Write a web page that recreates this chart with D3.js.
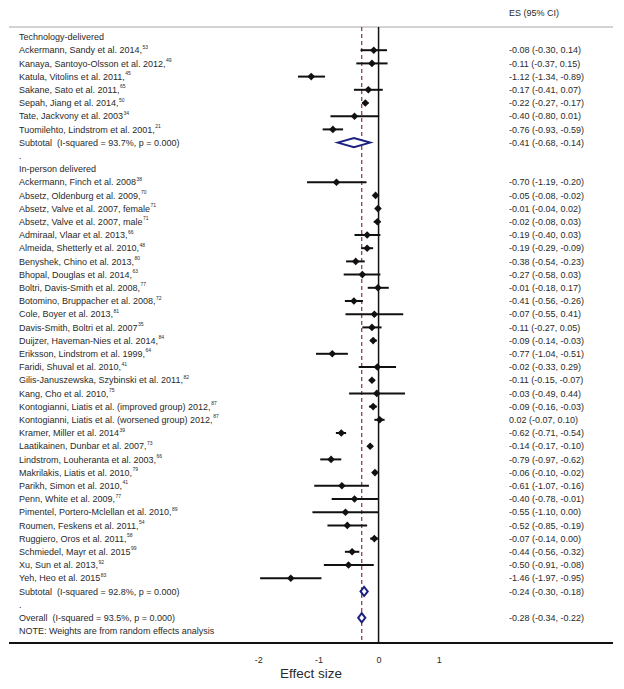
<!DOCTYPE html>
<html><head><meta charset="utf-8">
<script src="https://cdn.jsdelivr.net/npm/d3@7"></script>
<style>body{margin:0;background:#fff}text{font-family:Arial,"Liberation Sans",sans-serif;fill:#2a2a2a;white-space:pre}</style>
</head><body><svg id="c" width="624" height="689"></svg>
<script>
const techLabels=["Ackermann, Sandy et al. 2014,","Kanaya, Santoyo-Olsson et al. 2012,","Katula, Vitolins et al. 2011,","Sakane, Sato et al. 2011,","Sepah, Jiang et al. 2014,","Tate, Jackvony et al. 2003","Tuomilehto, Lindstrom et al. 2001,"];
const techSup=["53","49","45","65","50","34","21"];
const techES=[-0.08,-0.11,-1.12,-0.17,-0.22,-0.40,-0.76];
const techLo=[-0.30,-0.37,-1.34,-0.41,-0.27,-0.80,-0.93];
const techHi=[0.14,0.15,-0.89,0.07,-0.17,0.01,-0.59];
const personLabels=["Ackermann, Finch et al. 2008","Absetz, Oldenburg et al. 2009,","Absetz, Valve et al. 2007, female","Absetz, Valve et al. 2007, male","Admiraal, Vlaar et al. 2013,","Almeida, Shetterly et al. 2010,","Benyshek, Chino et al. 2013,","Bhopal, Douglas et al. 2014,","Boltri, Davis-Smith et al. 2008,","Botomino, Bruppacher et al. 2008,","Cole, Boyer et al. 2013,","Davis-Smith, Boltri et al. 2007","Duijzer, Haveman-Nies et al. 2014,","Eriksson, Lindstrom et al. 1999,","Faridi, Shuval et al. 2010,","Gilis-Januszewska, Szybinski et al. 2011,","Kang, Cho et al. 2010,","Kontogianni, Liatis et al. (improved group) 2012,","Kontogianni, Liatis et al. (worsened group) 2012,","Kramer, Miller et al. 2014","Laatikainen, Dunbar et al. 2007,","Lindstrom, Louheranta et al. 2003,","Makrilakis, Liatis et al. 2010,","Parikh, Simon et al. 2010,","Penn, White et al. 2009,","Pimentel, Portero-Mclellan et al. 2010,","Roumen, Feskens et al. 2011,","Ruggiero, Oros et al. 2011,","Schmiedel, Mayr et al. 2015","Xu, Sun et al. 2013,","Yeh, Heo et al. 2015"];
const personSup=["38","70","71","71","66","48","80","63","77","72","81","35","84","64","41","82","75","87","87","39","73","66","79","41","77","89","54","58","99","92","83"];
const personES=[-0.70,-0.05,-0.01,-0.02,-0.19,-0.19,-0.38,-0.27,-0.01,-0.41,-0.07,-0.11,-0.09,-0.77,-0.02,-0.11,-0.03,-0.09,0.02,-0.62,-0.14,-0.79,-0.06,-0.61,-0.40,-0.55,-0.52,-0.07,-0.44,-0.50,-1.46];
const personLo=[-1.19,-0.08,-0.04,-0.08,-0.40,-0.29,-0.54,-0.58,-0.18,-0.56,-0.55,-0.27,-0.14,-1.04,-0.33,-0.15,-0.49,-0.16,-0.07,-0.71,-0.17,-0.97,-0.10,-1.07,-0.78,-1.10,-0.85,-0.14,-0.56,-0.91,-1.97];
const personHi=[-0.20,-0.02,0.02,0.03,0.03,-0.09,-0.23,0.03,0.17,-0.26,0.41,0.05,-0.03,-0.51,0.29,-0.07,0.44,-0.03,0.10,-0.54,-0.10,-0.62,-0.02,-0.16,-0.01,-0.00,-0.19,0.00,-0.32,-0.08,-0.95];
const groupTitles=["Technology-delivered","In-person delivered"];
const subtotalLabels=["Subtotal  (I-squared = 93.7%, p = 0.000)","Subtotal  (I-squared = 92.8%, p = 0.000)"];
const subtotalES=[-0.41,-0.24];
const subtotalLo=[-0.68,-0.30];
const subtotalHi=[-0.14,-0.18];
const overallLabel="Overall  (I-squared = 93.5%, p = 0.000)";
const overallES=-0.28, overallLo=-0.34, overallHi=-0.22;
const noteText="NOTE: Weights are from random effects analysis";
const xTicks=[-2,-1,0,1];
const headerText="ES (95% CI)";
const axisTitle="Effect size";

const fmt=v=>{const s=v.toFixed(2);return (s==="-0.00")?"-0.00":s;};
const ciText=(e,l,h)=>`${fmt(e)} (${fmt(l)}, ${fmt(h)})`;

// build rows
const rows=[];
rows.push({type:"title",label:groupTitles[0]});
techLabels.forEach((l,i)=>rows.push({type:"study",label:l,sup:techSup[i],es:techES[i],lo:techLo[i],hi:techHi[i]}));
rows.push({type:"sub",label:subtotalLabels[0],es:subtotalES[0],lo:subtotalLo[0],hi:subtotalHi[0]});
rows.push({type:"dot",label:"."});
rows.push({type:"title",label:groupTitles[1]});
personLabels.forEach((l,i)=>rows.push({type:"study",label:l,sup:personSup[i],es:personES[i],lo:personLo[i],hi:personHi[i]}));
rows.push({type:"sub",label:subtotalLabels[1],es:subtotalES[1],lo:subtotalLo[1],hi:subtotalHi[1]});
rows.push({type:"dot",label:"."});
rows.push({type:"sub",label:overallLabel,es:overallES,lo:overallLo,hi:overallHi});
rows.push({type:"note",label:noteText});
rows.forEach((r,i)=>r.i=i);

const svg=d3.select("#c");
const x=d3.scaleLinear().domain([-2,1]).range([258.3,438.7]);
const y=d3.scaleLinear().domain([0,rows.length-1]).range([37,37+13.2*(rows.length-1)]);
const topY=27, botY=643, leftX=9, rightX=613, labelX=19, valX=509;

// top grey line
svg.append("line").attr("x1",leftX).attr("x2",rightX).attr("y1",topY).attr("y2",topY).attr("stroke","#c4c4c4").attr("stroke-width",1.5);
svg.append("text").attr("x",valX).attr("y",13).attr("dy","0.35em").attr("font-size",9).text(headerText);

// zero line
svg.append("line").attr("x1",x(0)).attr("x2",x(0)).attr("y1",topY).attr("y2",botY).attr("stroke","#111").attr("stroke-width",1.5);
// overall dashed line
svg.append("line").attr("x1",x(overallES)).attr("x2",x(overallES)).attr("y1",topY).attr("y2",botY).attr("stroke","#8b3040").attr("stroke-width",1.2).attr("stroke-dasharray","4,3");

// labels
const lab=svg.append("g");
rows.forEach(r=>{
  const t=lab.append("text").attr("x",labelX).attr("y",y(r.i)).attr("dy","0.35em").attr("font-size",9);
  t.append("tspan").text(r.label);
  if(r.sup){t.append("tspan").attr("font-size",5).attr("dy","-0.9em").attr("dx",0.5).text(r.sup);}
  if(r.es!==undefined){
    svg.append("text").attr("x",valX).attr("y",y(r.i)).attr("dy","0.35em").attr("font-size",9).text(ciText(r.es,r.lo,r.hi));
  }
});

// CI lines & markers
const studies=rows.filter(r=>r.type==="study");
svg.append("g").selectAll("line").data(studies).join("line")
  .attr("x1",d=>x(d.lo)).attr("x2",d=>x(d.hi)).attr("y1",d=>y(d.i)).attr("y2",d=>y(d.i))
  .attr("stroke","#111").attr("stroke-width",2);
const ms=3.8;
svg.append("g").selectAll("path").data(studies).join("path")
  .attr("d",d=>{const cx=x(d.es),cy=y(d.i);return `M${cx-ms},${cy}L${cx},${cy-ms}L${cx+ms},${cy}L${cx},${cy+ms}Z`;})
  .attr("fill","#111");
const subs=rows.filter(r=>r.type==="sub");
svg.append("g").selectAll("path").data(subs).join("path")
  .attr("d",d=>{const cy=y(d.i),h=4.6;return `M${x(d.lo)},${cy}L${x(d.es)},${cy-h}L${x(d.hi)},${cy}L${x(d.es)},${cy+h}Z`;})
  .attr("fill","#fff").attr("stroke","#1c2080").attr("stroke-width",2);

// bottom line and axis
svg.append("line").attr("x1",leftX).attr("x2",rightX).attr("y1",botY).attr("y2",botY).attr("stroke","#111").attr("stroke-width",2);
const ax=svg.append("g").attr("transform",`translate(0,${botY})`)
  .call(d3.axisBottom(x).tickValues(xTicks).tickSize(0).tickPadding(14).tickFormat(d=>String(d)));
ax.select(".domain").remove();
ax.selectAll("text").attr("font-size",9).attr("font-family","Arial,'Liberation Sans',sans-serif").attr("fill","#2a2a2a");
svg.append("text").attr("x",311).attr("y",673).attr("dy","0.35em").attr("text-anchor","middle").attr("font-size",13.5).text(axisTitle);
</script></body></html>
